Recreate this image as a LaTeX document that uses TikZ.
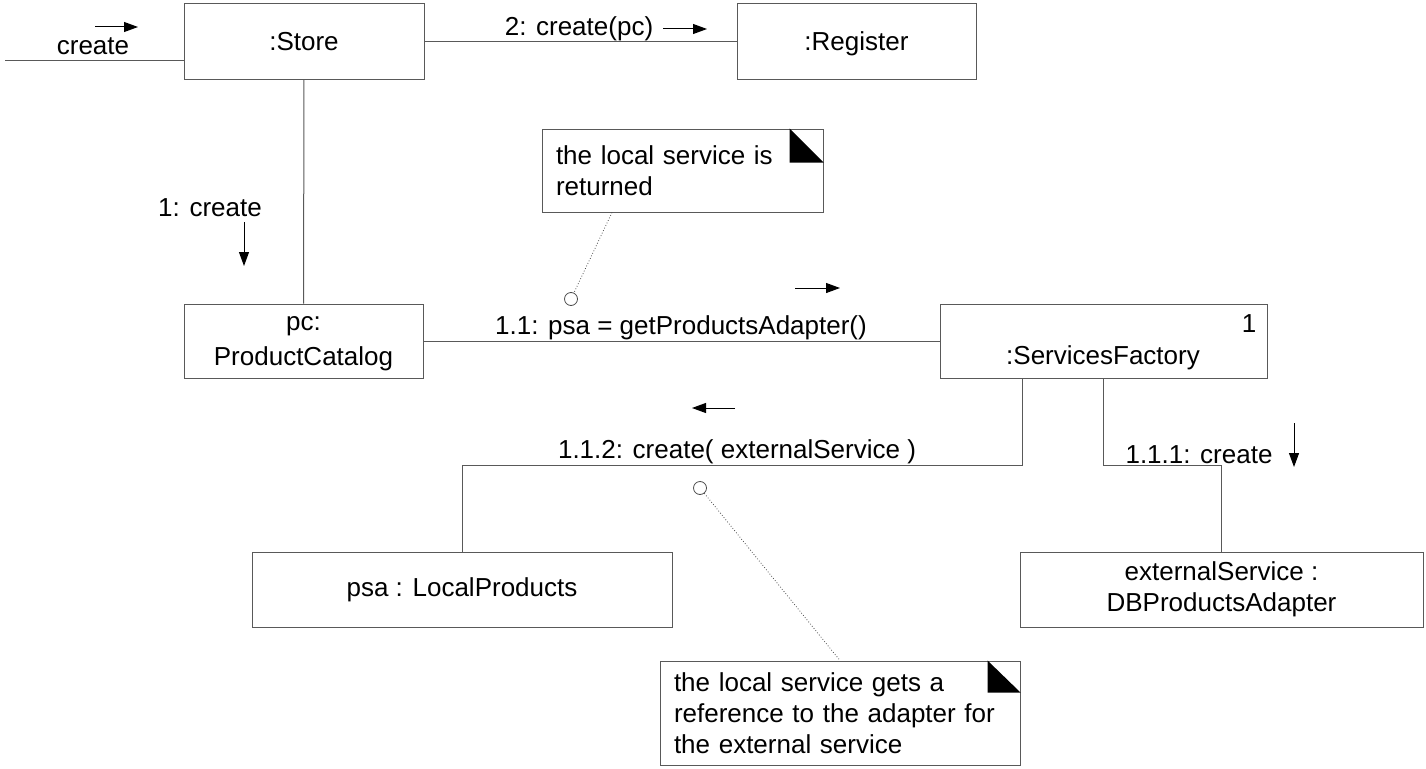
\documentclass[tikz,border=0pt]{standalone}
\usepackage{fontspec}
\setmainfont{Liberation Sans}
\usepackage{tikz}
\usetikzlibrary{arrows.meta,calc,positioning}

\tikzset{
  obj/.style={draw=black!65, line width=1pt, minimum height=75pt, inner sep=0pt, align=center},
  notebox/.style={draw=black!65, line width=1pt, align=left, inner ysep=0pt, inner xsep=14pt},
  link/.style={draw=black!65, line width=1pt},
  msg/.style={line width=1pt, -{Triangle[length=14pt,width=10pt]}},
  pin/.style={circle, draw=black!70, fill=white, line width=0.8pt, minimum size=13pt, inner sep=0pt},
  dots/.style={draw=black!70, line width=0.8pt, dotted}
}

\begin{document}
\begin{tikzpicture}[x=1pt, y=-1pt, font=\fontsize{26}{31}\selectfont]
\useasboundingbox (0,0) rectangle (1426,768);
% objects
\node[obj, minimum width=240pt] (store) at (304,41.5) {:Store};
\node[obj, minimum width=239pt, text depth=0pt] (reg) at (856.5,41.5) {:Register};
\node[obj, minimum width=239pt, minimum height=74pt, text depth=0pt] (pc) at (303.5,341) {pc:\\[4pt]ProductCatalog};
\node[obj, minimum width=327pt, minimum height=74pt] (sf) at (1103.5,341) {};
\node (sfname) at (1103,358) {:ServicesFactory};
\node (sfmult) at (1249,324) {1};
\node[obj, minimum width=420pt] (lp) at (462,589.5) {psa : LocalProducts};
\node[obj, minimum width=403pt] (db) at (1221.5,589.5) {externalService :\\DBProductsAdapter};

% notes
\node[notebox, text width=253pt, minimum height=83pt] (note1) at (682.5,170.5)
  {the local service is\\returned};
\fill (note1.north east) ++(-34,0) -- ++(0,34) -- ++(34,0) -- cycle;
\node[notebox, text width=332pt, minimum height=104pt] (note2) at (840,713)
  {the local service gets a\\reference to the adapter for\\the external service};
\fill (note2.north east) ++(-33,0) -- ++(0,32) -- ++(33,0) -- cycle;

% links
\coordinate (in) at (5,61);
\draw[link] (in) -- (in -| store.west);
\draw[link] (store) -- (reg);
\draw[link] (store) -- (pc);
\draw[link] (pc) -- (sf);
\draw[link] ([xshift=-81.5pt]sf.south) -- ++(0,87) -| (lp.north);
\draw[link] (sf.south) -- ++(0,87) -| (db.north);

% note anchors
\node[pin] (c1) at (571,299) {};
\node[pin] (c2) at (700,488) {};
\draw[dots] ([xshift=-70.5pt]note1.south) -- (c1);
\draw[dots] (c2) -- (note2.north);

% messages
\node (lcreate) at (93,46) {create};
\node (l2) at (579,29) {2: create(pc)};
\node (l1) at (210,208) {1: create};
\node (l11) at (681,328) {1.1: psa = getProductsAdapter()};
\node (l112) at (737,452) {1.1.2: create( externalService )};
\node (l111) at (1199,455) {1.1.1: create};

\coordinate (m0a) at (95,27);   \coordinate (m0b) at (138,27);
\coordinate (m2a) at (663,29);  \coordinate (m2b) at (707,29);
\coordinate (m1a) at (244,222); \coordinate (m1b) at (244,266);
\coordinate (m11a) at (795,288); \coordinate (m11b) at (840,288);
\coordinate (m112a) at (735,408); \coordinate (m112b) at (692,408);
\coordinate (m111a) at (1294,423); \coordinate (m111b) at (1294,467);
\foreach \m in {m0, m2, m1, m11, m112, m111}
  \draw[msg] (\m a) -- (\m b);
\end{tikzpicture}
\end{document}
